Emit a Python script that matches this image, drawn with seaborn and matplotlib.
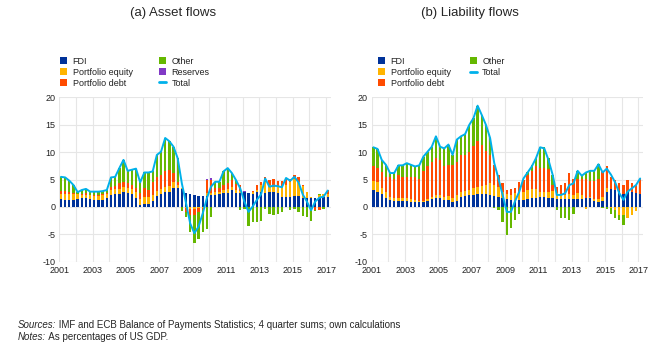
import matplotlib
matplotlib.use("Agg")
import matplotlib.pyplot as plt
from matplotlib.patches import Patch
from matplotlib.lines import Line2D
import numpy as np
import pandas as pd
import seaborn as sns

# quarters 2001Q1 .. 2017Q1
quarters = pd.period_range("2001Q1", "2017Q1", freq="Q")

# (a) asset flows, % of US GDP
fdi_a = [1.5, 1.3, 1.3, 1.3, 1.5, 1.6, 1.6, 1.5, 1.3, 1.3, 1.3, 1.6,
         2.1, 2.3, 2.3, 2.8, 2.5, 2.4, 1.7, 0.4, 0.5, 0.6, 1.1,
         2.0, 2.3, 2.7, 2.8, 3.4, 3.4, 3.2, 2.5, 2.3, 2.1, 2.0, 2.0,
         2.0, 2.2, 2.2, 2.3, 2.5, 2.6, 3.1, 2.6, 2.5, 2.7, 2.5, 2.4,
         2.8, 2.7, 2.5, 2.7, 2.7, 2.5, 1.8, 1.8, 1.9, 2.0, 2.0, 1.7,
         1.7, 1.7, 1.6, 1.7, 1.8, 1.8]
equity_a = [0.9, 1.1, 1.0, 1.0, 0.8, 0.5, 0.6, 0.6, 0.7, 0.7, 0.8, 0.7,
            1.0, 1.0, 1.0, 0.9, 0.9, 0.9, 1.1, 1.1, 1.4, 1.3, 1.1,
            0.9, 0.9, 1.0, 1.1, 1.1, 0.6, 0.2, -0.2, -0.3, -0.3, -0.2, -0.1,
            0.5, 0.4, 0.6, 0.5, 0.6, 0.6, 0.5, 0.5, 0.5, 0.1, 0.1, 0.3,
            0.3, 1.3, 2.1, 1.3, 1.0, 1.2, 1.8, 2.2, 2.6, 3.2, 2.5, 2.1,
            1.1, 0.2, 0.1, 0.5, 0.5, 0.6]
debt_a = [0.5, 0.5, 0.4, 0.2, 0.1, 0.3, 0.3, 0.1, 0.2, 0.2, 0.2, 0.3,
          0.5, 0.6, 1.0, 0.8, 0.9, 0.7, 0.6, 1.0, 1.5, 1.2, 2.3,
          2.6, 2.7, 2.9, 2.9, 1.7, 0.5, 0.0, -0.8, -1.2, -1.2, -0.8, -0.4,
          2.4, 2.3, 0.6, 0.6, 0.9, 1.1, 1.3, 1.1, 1.0, 0.0, 0.0, 0.2,
          0.9, 0.5, 0.9, 0.9, 1.5, 1.1, 1.2, 1.2, 0.6, 0.7, 1.0, 0.2,
          0.0, -0.3, -0.6, -0.5, 0.0, 0.7]
other_a = [2.6, 2.5, 2.1, 1.5, 0.4, 0.7, 0.8, 0.6, 0.6, 0.6, 0.6, 0.5,
           1.8, 1.6, 2.8, 4.1, 2.3, 2.8, 3.6, 2.0, 2.9, 3.2, 2.0,
           4.0, 4.2, 6.0, 5.2, 4.8, 4.4, -0.7, -0.9, -3.0, -5.1, -4.9, -4.0,
           -4.1, -1.9, 1.2, 1.2, 2.5, 2.8, 1.3, 0.7, -0.6, -0.3, -3.5, -2.8,
           -2.7, -2.6, -0.3, -1.3, -1.4, -1.3, -1.0, 0.0, -0.5, -0.3, -0.9, -1.7,
           -1.8, -2.3, -0.1, 0.1, -0.3, 0.0]
reserves_a = [0.0, 0.0, 0.0, 0.0, 0.0, 0.0, 0.0, 0.0, 0.0, 0.0, 0.0, 0.0,
              0.0, 0.0, 0.0, 0.0, 0.0, 0.0, 0.0, 0.0, 0.0, 0.0, 0.0,
              0.0, 0.0, 0.0, 0.0, 0.0, 0.0, 0.0, 0.0, 0.0, 0.0, 0.0, 0.0,
              0.3, 0.4, 0.0, 0.0, 0.0, 0.1, 0.0, 0.0, 0.1, 0.1, 0.0, 0.0,
              0.0, 0.0, 0.0, 0.0, 0.0, 0.0, 0.0, 0.0, 0.0, 0.0, 0.0, 0.0,
              0.0, 0.0, 0.0, 0.0, 0.0, 0.0]
total_a = [5.5, 5.4, 4.8, 4.0, 2.7, 3.1, 3.3, 2.8, 2.8, 2.8, 2.9, 3.1,
           5.4, 5.5, 7.1, 8.6, 6.6, 6.8, 7.0, 4.5, 6.3, 6.3, 6.5,
           9.5, 10.1, 12.6, 12.0, 11.0, 8.9, 4.3, 0.7, -3.0, -4.8, -3.6, -1.2,
           1.6, 3.7, 4.6, 4.6, 6.5, 7.1, 6.2, 4.9, 3.4, 1.0, -0.9, 0.1,
           1.3, 2.3, 5.2, 3.7, 3.9, 3.8, 3.6, 5.3, 4.8, 5.5, 4.5, 2.3,
           1.0, -0.6, 1.0, 1.7, 1.9, 3.0]

# (b) liability flows, % of US GDP
fdi_b = [3.1, 2.8, 2.3, 1.6, 1.3, 1.0, 1.0, 1.0, 1.1, 0.9, 0.9, 0.9,
         0.9, 1.1, 1.5, 1.6, 1.6, 1.3, 1.2, 0.9, 1.1, 1.9, 2.0,
         2.1, 2.2, 2.3, 2.4, 2.3, 2.2, 2.0, 1.9, 1.6, 1.5, 1.3, 1.1,
         1.3, 1.3, 1.5, 1.6, 1.7, 1.9, 1.9, 1.7, 1.6, 1.5, 1.5, 1.5,
         1.5, 1.4, 1.5, 1.5, 1.6, 1.6, 1.0, 0.9, 1.1, 2.8, 3.2, 3.1,
         2.9, 2.4, 2.7, 2.7, 2.5, 2.3]
equity_b = [1.7, 1.7, 1.2, 1.2, 0.6, 0.7, 0.7, 0.6, 0.5, 0.6, 0.4, 0.2,
            0.2, 0.3, 0.4, 0.6, 0.6, 0.6, 0.8, 0.8, 1.0, 0.9, 0.9,
            1.0, 1.2, 1.4, 1.5, 1.8, 2.1, 2.1, 1.8, 1.2, 0.8, 0.9, 1.4,
            1.5, 1.5, 1.6, 1.6, 1.5, 0.9, 0.9, 1.1, 1.3, 1.0, 0.7, 0.7,
            0.8, 0.8, 1.0, 0.7, -0.3, 0.2, 0.5, 0.6, 0.8, 0.6, -0.2, -0.6,
            -1.5, -1.5, -2.0, -1.5, -0.8, 0.0]
debt_b = [2.6, 2.7, 2.8, 2.7, 3.6, 3.5, 4.2, 3.8, 3.9, 4.0, 4.1, 4.1,
          5.5, 6.0, 6.4, 6.7, 6.4, 5.5, 5.6, 5.9, 6.2, 6.7, 6.6,
          7.0, 7.8, 8.4, 7.4, 6.1, 5.2, 3.6, 2.2, 1.5, 0.8, 1.1, 1.0,
          1.8, 2.1, 2.8, 3.3, 4.2, 4.4, 4.3, 4.2, 1.2, 1.2, 1.9, 2.1,
          3.9, 3.0, 2.7, 3.0, 3.6, 3.0, 3.3, 3.7, 4.6, 4.0, 2.3, 1.8,
          1.4, 1.6, 2.2, 1.6, 1.5, 2.9]
other_b = [3.5, 3.4, 2.3, 2.2, 0.7, 1.0, 1.7, 2.2, 2.5, 2.2, 2.0, 2.4,
           2.6, 2.7, 2.7, 4.0, 2.4, 3.3, 3.8, 1.9, 4.0, 3.4, 3.8,
           4.9, 5.0, 6.4, 5.5, 4.8, 3.1, -0.2, -0.5, -2.7, -5.1, -3.9, -2.4,
           -1.2, 0.0, 0.4, 1.2, 1.6, 3.8, 3.8, 1.9, 1.8, -0.5, -2.1, -2.1,
           -2.4, -1.2, 1.4, 0.5, 1.1, 1.8, 1.8, 2.6, -0.2, -0.4, -1.0, -1.4,
           -0.8, -1.8, -0.1, 0.0, 0.0, 0.0]
total_b = [10.9, 10.6, 8.6, 7.7, 6.2, 6.2, 7.6, 7.6, 8.0, 7.7, 7.4, 7.6,
           9.2, 10.1, 11.0, 12.9, 11.0, 10.7, 11.4, 9.5, 12.3, 12.9, 13.3,
           15.0, 16.2, 18.5, 16.8, 15.0, 12.6, 8.0, 5.2, 2.2, -0.9, -0.9, 1.1,
           2.8, 5.2, 6.3, 7.4, 8.9, 10.9, 10.7, 8.6, 5.9, 2.2, 2.2, 2.5,
           4.0, 4.3, 6.6, 5.7, 6.3, 6.6, 6.6, 7.8, 6.3, 7.0, 5.9, 4.5,
           2.5, 1.3, 2.8, 3.4, 4.0, 5.2]

colors = {"FDI": "#003299", "Portfolio equity": "#ffb400",
          "Portfolio debt": "#ff4b00", "Other": "#65b800",
          "Reserves": "#8139c6", "Total": "#00b1ea"}

sns.set_style("whitegrid", {"grid.color": "#e6e6e6", "axes.edgecolor": "#e6e6e6"})
plt.rcParams["font.family"] = ["Liberation Sans", "DejaVu Sans"]
plt.rcParams["axes.unicode_minus"] = False

x = np.asarray(quarters.year + (quarters.quarter - 1) / 4 + 0.1)


def draw_panel(ax, series, total):
    pos = np.zeros(len(x))
    neg = np.zeros(len(x))
    for name, vals in series:
        v = np.array(vals)
        bottom = np.where(v >= 0, pos, neg)
        ax.bar(x, v, bottom=bottom, width=0.14, color=colors[name], linewidth=0)
        pos = pos + np.clip(v, 0, None)
        neg = neg + np.clip(v, None, 0)
    sns.lineplot(x=x, y=total, ax=ax, color=colors["Total"], linewidth=1.4)
    ax.set_xlabel("")
    ax.set_ylabel("")
    ax.set_xlim(2001, 2017.3)
    ax.set_ylim(-10, 20)
    ax.set_yticks(range(-10, 21, 5))
    ax.set_xticks(range(2001, 2018, 2))
    ax.set_xticks(range(2002, 2018, 2), minor=True)
    ax.grid(True, which="both", color="#e6e6e6", linewidth=0.8)
    ax.set_axisbelow(True)
    ax.tick_params(axis="both", labelsize=6.5, colors="#222222", length=0, pad=3)
    for s in ax.spines.values():
        s.set_visible(False)


fig = plt.figure(figsize=(6.71, 3.61), dpi=100)
ax1 = fig.add_axes([0.0884, 0.275, 0.405, 0.455])
ax2 = fig.add_axes([0.554, 0.275, 0.405, 0.455])

draw_panel(ax1, [("FDI", fdi_a), ("Portfolio equity", equity_a),
                 ("Portfolio debt", debt_a), ("Other", other_a),
                 ("Reserves", reserves_a)], total_a)
draw_panel(ax2, [("FDI", fdi_b), ("Portfolio equity", equity_b),
                 ("Portfolio debt", debt_b), ("Other", other_b)], total_b)

fig.text(173 / 671, 1 - 13 / 361, "(a) Asset flows", ha="center", va="center", fontsize=9.5)
fig.text(470 / 671, 1 - 13 / 361, "(b) Liability flows", ha="center", va="center", fontsize=9.5)


def make_legend(ax, names, anchor, colspace):
    handles = []
    for n in names:
        if n == "Total":
            handles.append(Line2D([], [], color=colors[n], linewidth=2))
        else:
            handles.append(Patch(facecolor=colors[n], edgecolor="none"))
    leg = ax.legend(handles, names, ncol=2, loc="upper left",
                    bbox_to_anchor=anchor, bbox_transform=fig.transFigure,
                    frameon=False, fontsize=6.5, handlelength=0.8,
                    handleheight=0.8, handletextpad=0.6, columnspacing=colspace,
                    labelspacing=0.2, borderpad=0, borderaxespad=0)
    for t in leg.get_texts():
        t.set_color("#222222")


make_legend(ax1, ["FDI", "Portfolio equity", "Portfolio debt", "Other", "Reserves", "Total"],
            (60 / 671, 1 - 57 / 361), 2.9)
make_legend(ax2, ["FDI", "Portfolio equity", "Portfolio debt", "Other", "Total"],
            (378 / 671, 1 - 57 / 361), 2.1)

# footnotes
fig.canvas.draw()
r = fig.canvas.get_renderer()
for yy, head, rest in [(325, "Sources:", " IMF and ECB Balance of Payments Statistics; 4 quarter sums; own calculations"),
                       (337, "Notes:", " As percentages of US GDP.")]:
    t = fig.text(18 / 671, 1 - yy / 361, head, style="italic", fontsize=7, va="center")
    bb = t.get_window_extent(renderer=r)
    fig.text(bb.x1 / fig.bbox.width, 1 - yy / 361, rest, fontsize=7, va="center")

fig.savefig("out.png", dpi=100)
